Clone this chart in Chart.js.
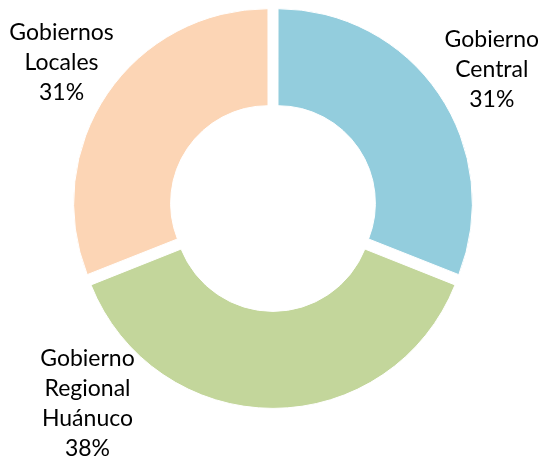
<!DOCTYPE html>
<html>
<head>
<meta charset="utf-8">
<script src="https://cdn.jsdelivr.net/npm/chart.js@4"></script>
<style>
  html, body { margin: 0; padding: 0; background: #fff; }
  #wrap { width: 538px; height: 462px; position: relative; }
</style>
</head>
<body>
<div id="wrap"><canvas id="chart"></canvas></div>
<script>
// Data
const categories = ["Gobierno Central", "Gobierno Regional Huánuco", "Gobiernos Locales"];
const shares = [31, 38, 31];
const labelLines = [
    ["Gobierno", "Central", "31%"],
    ["Gobierno", "Regional", "Huánuco", "38%"],
    ["Gobiernos", "Locales", "31%"],
];
const colors = ["#93CDDD", "#C3D69B", "#FCD5B5"];

// Labels sit outside the ring; angle (deg, clockwise from top) and distance from centre
const outsideLabels = {
    id: "outsideLabels",
    afterDatasetsDraw(chart, args, opts) {
        const { ctx } = chart;
        const arcs = chart.getDatasetMeta(0).data;
        ctx.save();
        ctx.font = opts.font;
        ctx.fillStyle = opts.color;
        ctx.textAlign = "center";
        ctx.textBaseline = "middle";
        arcs.forEach((arc, i) => {
            const pos = opts.positions[i];
            const a = pos.angle * Math.PI / 180;
            const cx = arc.x + pos.dist * Math.sin(a);
            const cy = arc.y - pos.dist * Math.cos(a);
            const lines = labelLines[i];
            const top = cy - (lines.length - 1) * opts.lineHeight / 2;
            lines.forEach((t, j) => ctx.fillText(t, cx, top + j * opts.lineHeight));
        });
        ctx.restore();
    },
};

const ctx = document.getElementById("chart").getContext("2d");
new Chart(ctx, {
    type: "doughnut",
    data: {
        labels: categories,
        datasets: [
            {
                data: shares,
                backgroundColor: colors,
                borderColor: "#ffffff",
                borderWidth: 1,
                offset: 24, // v4 draws arcs shifted by offset / 4
            },
        ],
    },
    options: {
        responsive: true,
        maintainAspectRatio: false,
        animation: false,
        cutout: "50%",
        layout: {
            padding: { top: 0, left: 66, right: 58, bottom: 49 },
        },
        plugins: {
            legend: { display: false },
            tooltip: { enabled: false },
            outsideLabels: {
                font: "23px Lato",
                color: "#000000",
                lineHeight: 30,
                positions: [
                    { angle: 58.0, dist: 258 },
                    { angle: 223.2, dist: 271 },
                    { angle: 304.3, dist: 256 },
                ],
            },
        },
    },
    plugins: [outsideLabels],
});
</script>
</body>
</html>
